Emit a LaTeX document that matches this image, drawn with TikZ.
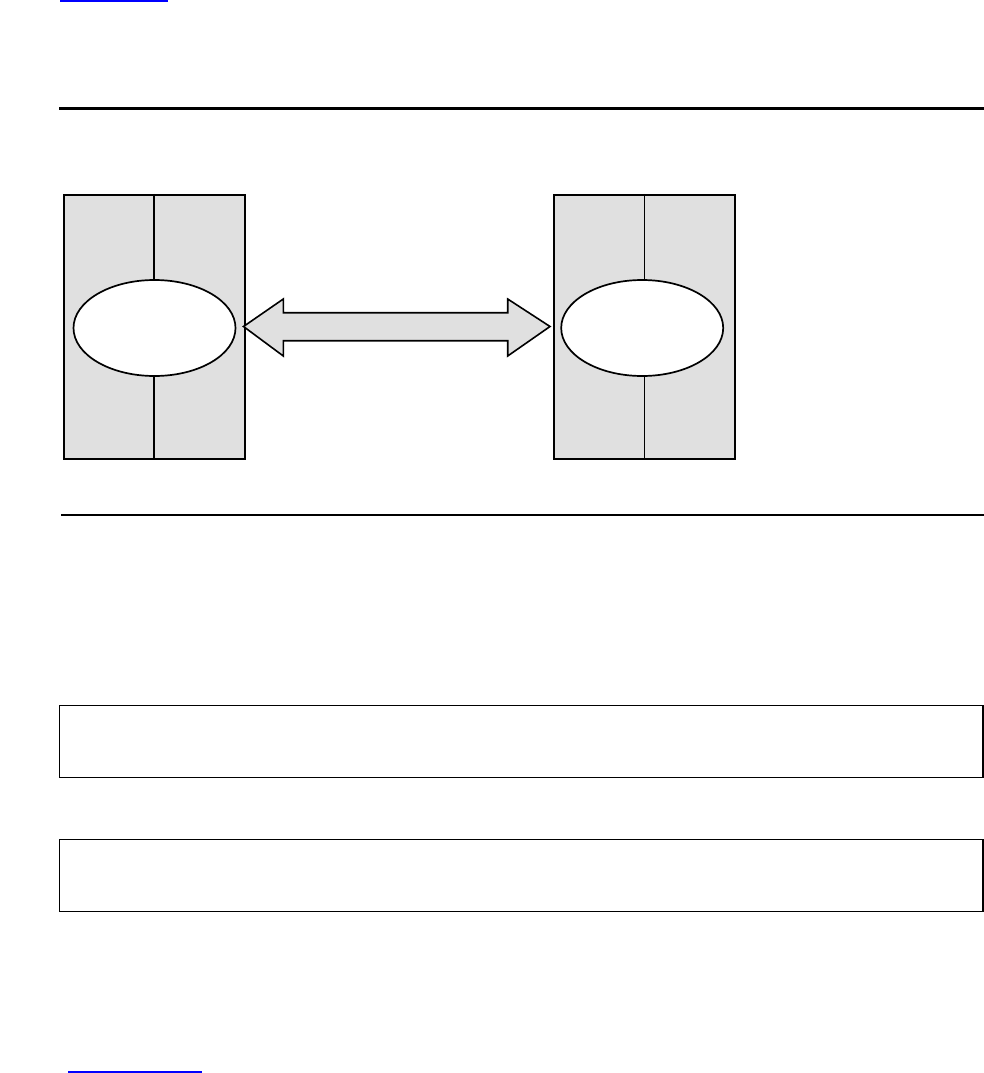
\documentclass[tikz,border=0pt]{standalone}
\usetikzlibrary{shapes.geometric,calc}
\definecolor{panelgray}{RGB}{224,224,224}
\definecolor{linkblue}{RGB}{0,0,255}
\tikzset{
  panel/.style={draw=black, fill=panelgray, line width=1.7pt, inner sep=0pt, minimum width=181pt, minimum height=264.5pt},
  oval/.style={ellipse, draw=black, fill=white, line width=1.7pt, inner sep=0pt, minimum width=162pt, minimum height=96pt},
  divider/.style={draw=black, line width=1.7pt},
  rulebar/.style={draw=black, line width=2.4pt},
  textbox/.style={draw=black, line width=1.5pt, inner sep=0pt, minimum width=923.5pt, minimum height=72pt},
  linkline/.style={draw=linkblue, line width=1.6pt},
  bigarrow/.style={draw=black, fill=panelgray, line width=1.6pt, line join=miter}
}
\begin{document}
\begin{tikzpicture}[x=1pt,y=-1pt]
\useasboundingbox (0,0) rectangle (984,1073);
% link underlines
\coordinate (ta) at (60,1);
\coordinate (tb) at (168,1);
\draw[linkline] (ta) -- (tb);
\coordinate (ba) at (68,1072);
\coordinate (bb) at (202,1072);
\draw[linkline] (ba) -- (bb);
% horizontal rules
\coordinate (r1a) at (59,108.5);
\coordinate (r1b) at (985,108.5);
\draw[rulebar] (r1a) -- (r1b);
\coordinate (r2a) at (61,515);
\coordinate (r2b) at (985,515);
\draw[rulebar, line width=2pt] (r2a) -- (r2b);
% panels
\node[panel] (L) at (154.3,327) {};
\node[panel] (R) at (644.5,327) {};
\draw[divider] (L.north) -- (L.south);
\draw[divider] (R.north) -- (R.south);
\node[oval] (LE) at (154.5,328) {};
\node[oval] (RE) at (642.2,328) {};
% double arrow
\coordinate (tipL) at (243.5,326.5);
\coordinate (tipR) at (550,326.5);
\draw[bigarrow] (tipL) -- (283.3,299) -- (283.3,312.7) -- (507.7,312.7) -- (507.7,299)
  -- (tipR) -- (507.7,356) -- (507.7,340.7) -- (283.3,340.7) -- (283.3,356) -- cycle;
% lower boxes
\node[textbox] (B1) at (521.3,741.3) {};
\node[textbox] (B2) at (521.3,875.3) {};
\end{tikzpicture}
\end{document}
